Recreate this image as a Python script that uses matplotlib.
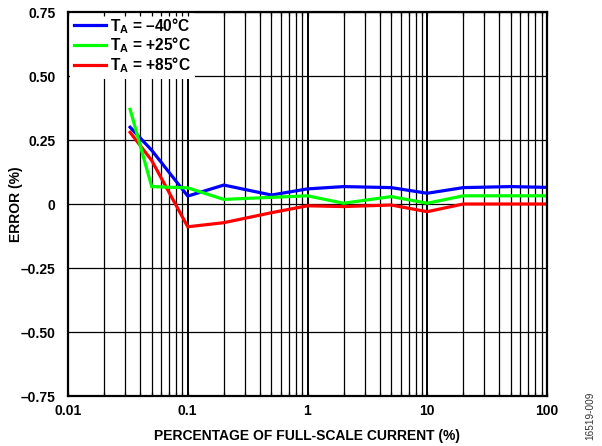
import numpy as np
import matplotlib
matplotlib.use("Agg")
import matplotlib.pyplot as plt

plt.rcParams['font.family'] = ['Liberation Sans', 'DejaVu Sans']
plt.rcParams['font.weight'] = 'bold'
plt.rcParams['mathtext.fontset'] = 'custom'
plt.rcParams['mathtext.rm'] = 'Liberation Sans:bold'
plt.rcParams['mathtext.it'] = 'Liberation Sans:bold'
plt.rcParams['mathtext.bf'] = 'Liberation Sans:bold'

# Data
current_pct = [0.033, 0.05, 0.1, 0.2, 0.5, 1, 2, 5, 10, 20, 50, 100]
err_m40 = [0.30, 0.21, 0.031, 0.074, 0.035, 0.059, 0.068, 0.064, 0.042, 0.064, 0.068, 0.065]
err_p25 = [0.37, 0.068, 0.063, 0.018, 0.026, 0.032, 0.003, 0.029, 0.003, 0.032, 0.032, 0.032]
err_p85 = [0.28, 0.17, -0.089, -0.073, -0.034, -0.007, -0.010, -0.004, -0.030, 0.0, 0.0, 0.0]
labels = ['T$_\\mathrm{A}$ = –40°C', 'T$_\\mathrm{A}$ = +25°C', 'T$_\\mathrm{A}$ = +85°C']
colors = ['#0000ff', '#00ff00', '#ff0000']
yticks = [-0.75, -0.5, -0.25, 0, 0.25, 0.5, 0.75]
ytick_labels = ['–0.75', '–0.50', '–0.25', '0', '0.25', '0.50', '0.75']
xticks = [0.01, 0.1, 1, 10, 100]
xtick_labels = ['0.01', '0.1', '1', '10', '100']

fig = plt.figure(figsize=(6.02, 4.46), dpi=100)
ax = fig.add_axes([68/602, 1-396/446, 479/602, 384/446])
ax.set_xscale('log')
ax.set_xlim(0.01, 100)
ax.set_ylim(-0.75, 0.75)

# grid lines
minor_pos = [k * 10.0**d for d in range(-2, 2) for k in range(2, 10)]
for xv in minor_pos:
    ax.axvline(xv, color='black', lw=0.9, zorder=1)
for xv in xticks:
    ax.axvline(xv, color='black', lw=1.4, zorder=1)
for yv in yticks:
    ax.axhline(yv, color='black', lw=0.9, zorder=1)

series = [err_m40, err_p25, err_p85]
zorders = [2, 4, 3]
handles = []
for s, c, lab, z in zip(series, colors, labels, zorders):
    h, = ax.plot(current_pct, s, color=c, lw=2.3, label=lab, zorder=z, solid_joinstyle='miter')
    handles.append(h)

leg = ax.legend(handles=handles, loc='upper left', bbox_to_anchor=(0.004, 1),
                borderaxespad=0, frameon=True, fancybox=False, framealpha=1,
                facecolor='white', edgecolor='none', prop={'size': 11.2, 'weight': 'bold'},
                handlelength=2.05, handletextpad=0.3, borderpad=0.25, labelspacing=0.0)
leg.set_zorder(5)

ax.set_xticks(xticks)
ax.set_xticklabels(xtick_labels)
ax.set_xticks(minor_pos, minor=True)
ax.xaxis.set_minor_formatter(matplotlib.ticker.NullFormatter())
ax.set_yticks(yticks)
ax.set_yticklabels(ytick_labels)
ax.tick_params(axis='both', which='both', direction='in', top=True, right=True,
               length=3, width=0.9, labelsize=10, colors='black')
ax.tick_params(axis='x', which='both', pad=6)
ax.tick_params(axis='y', which='both', pad=9, length=0)
ax.xaxis.set_zorder(6)
ax.yaxis.set_zorder(6)
for sp in ax.spines.values():
    sp.set_linewidth(1.6)
    sp.set_zorder(7)

ax.set_xlabel('PERCENTAGE OF FULL-SCALE CURRENT (%)', fontsize=10, fontweight='bold')
ax.xaxis.set_label_coords(0.5, -0.085)
ax.set_ylabel('ERROR (%)', fontsize=10, fontweight='bold')
ax.yaxis.set_label_coords(-0.094, 0.5)

fig.text(590/602, 1-416/446, '16519-009', rotation=90, ha='center', va='center',
         fontsize=7.2, fontweight='normal', color='#333333')

fig.savefig('out.png', dpi=100)
